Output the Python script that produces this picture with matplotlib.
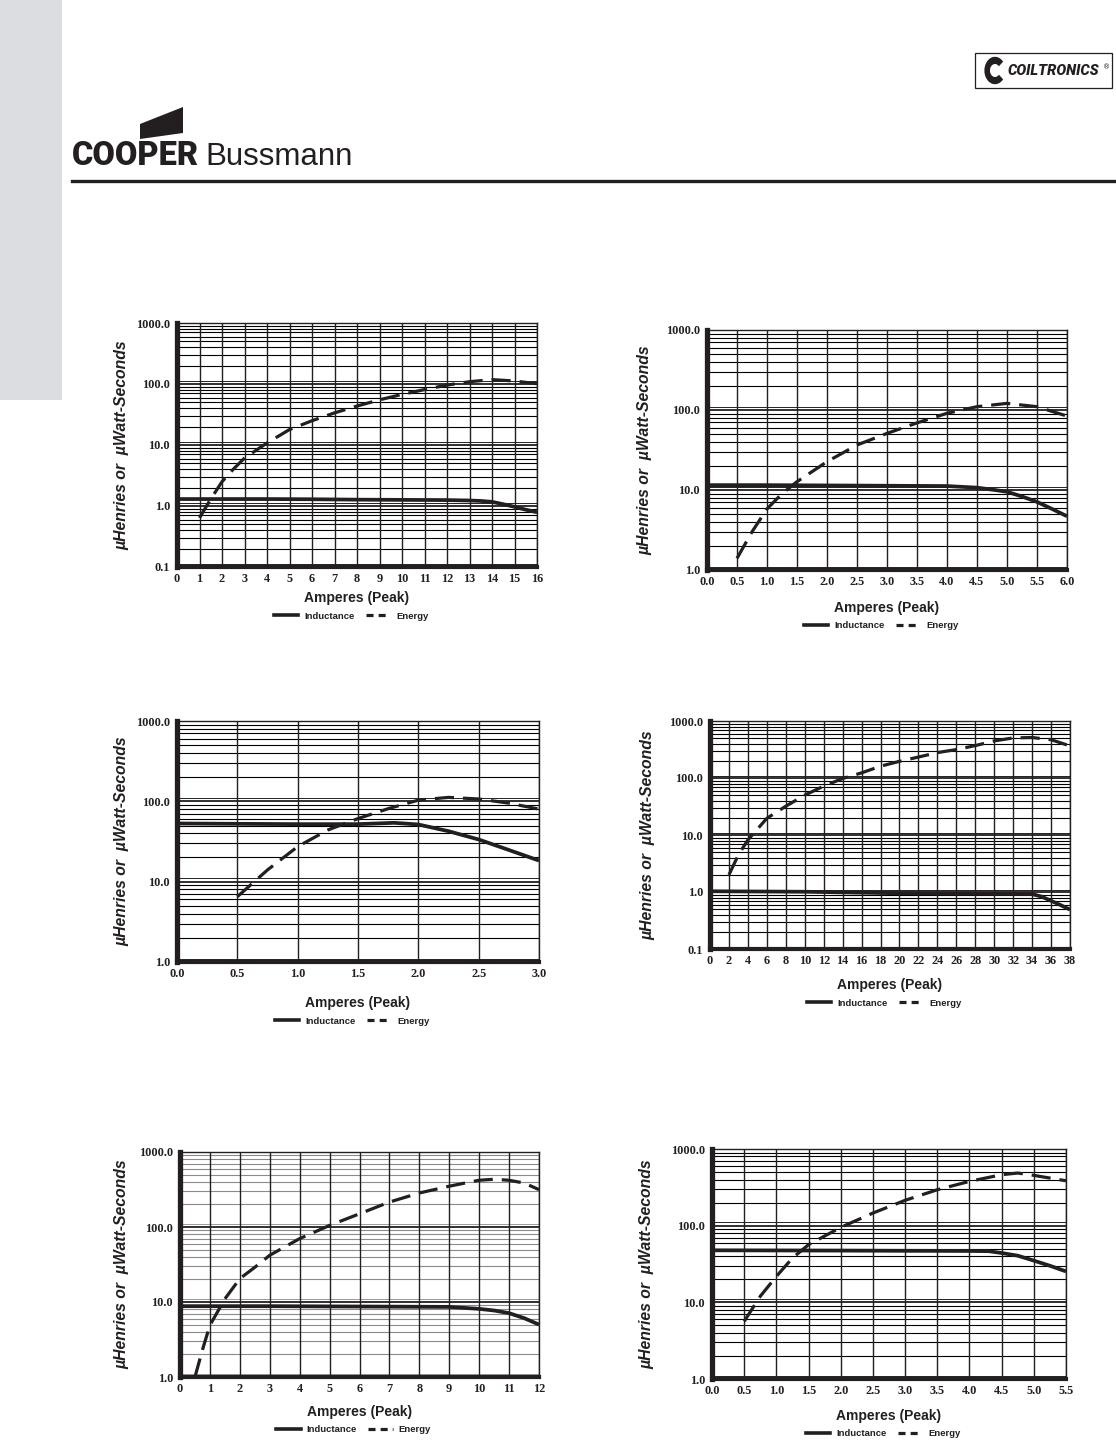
import matplotlib
matplotlib.use("Agg")
import matplotlib.pyplot as plt
from matplotlib.patches import Rectangle, Polygon, Wedge
from matplotlib.lines import Line2D
import numpy as np

W, H = 1116, 1441

# ---------------- data ----------------
# Chart 1 (top-left)
c1_x_ind = [0, 2, 4, 6, 8, 10, 12, 13, 13.5, 14, 14.5, 15, 15.5, 16]
c1_ind = [1.30, 1.30, 1.30, 1.29, 1.27, 1.26, 1.25, 1.23, 1.21, 1.17, 1.07, 0.97, 0.87, 0.79]
c1_x_en = [1, 1.5, 2, 2.5, 3, 4, 5, 6, 7, 8, 9, 10, 11, 12, 13, 14, 15, 16]
c1_en = [0.64, 1.3, 2.5, 4.0, 6.1, 10.8, 17.9, 25, 33.6, 43.5, 55, 67.5, 81, 96, 109, 118, 112, 101]

# Chart 2 (top-right)
c2_x_ind = [0, 1, 2, 3, 4, 4.5, 4.8, 5.0, 5.25, 5.5, 5.75, 6.0]
c2_ind = [11.5, 11.5, 11.4, 11.3, 11.2, 10.7, 10.0, 9.5, 8.3, 7.1, 5.8, 4.7]
c2_x_en = [0.5, 0.75, 1.0, 1.25, 1.5, 2.0, 2.5, 3.0, 3.5, 4.0, 4.5, 5.0, 5.5, 6.0]
c2_en = [1.4, 3.0, 5.8, 9.0, 12.7, 22.6, 36.5, 51, 69, 91, 110, 121, 110, 84]

# Chart 3 (middle-left)
c3_x_ind = [0, 0.5, 1.0, 1.5, 1.8, 2.0, 2.25, 2.5, 2.75, 3.0]
c3_ind = [53, 52.5, 52, 52, 54, 51.5, 42.5, 33.5, 24.8, 18.3]
c3_x_en = [0.5, 0.75, 1.0, 1.25, 1.5, 1.75, 2.0, 2.25, 2.5, 2.75, 3.0]
c3_en = [6.5, 14, 27.3, 44, 61, 81, 103.5, 112, 107, 95, 80]

# Chart 4 (middle-right)
c4_x_ind = [0, 10, 20, 30, 34, 35, 36, 37, 38]
c4_ind = [1.03, 1.01, 0.95, 0.93, 0.92, 0.83, 0.70, 0.59, 0.49]
c4_x_en = [2, 3, 4, 6, 8, 10, 12, 14, 16, 18, 20, 22, 24, 26, 28, 30, 32, 34, 36, 38]
c4_en = [2.0, 4.5, 8.2, 19.6, 32, 50, 72, 98, 123, 161, 196, 233, 279, 315, 370, 447, 505, 513, 470, 365]

# Chart 5 (bottom-left)
c5_x_ind = [0, 3, 6, 9, 10, 10.5, 11, 11.5, 12]
c5_ind = [8.8, 8.8, 8.7, 8.6, 8.1, 7.7, 7.1, 6.1, 5.0]
c5_x_en = [0.5, 0.75, 1, 1.5, 2, 2.5, 3, 4, 5, 6, 7, 8, 9, 10, 10.5, 11, 11.5, 12]
c5_en = [1.0, 2.3, 4.9, 11, 20.5, 29, 42, 70, 105, 150, 215, 284, 350, 420, 433, 420, 386, 315]

# Chart 6 (bottom-right)
c6_x_ind = [0, 1, 2, 3, 4, 4.3, 4.5, 4.75, 5.0, 5.25, 5.5]
c6_ind = [47.7, 47.5, 47.3, 47.0, 46.8, 46.5, 44, 40.6, 35, 30, 25.3]
c6_x_en = [0.5, 0.75, 1.0, 1.25, 1.5, 2.0, 2.5, 3.0, 3.5, 4.0, 4.5, 4.75, 5.0, 5.5]
c6_en = [5.65, 12, 21.8, 37.8, 56.5, 95, 146, 214, 294, 378, 462, 486, 453, 385]

x1_ticks = list(range(0, 17))
x2_ticks = [0.0, 0.5, 1.0, 1.5, 2.0, 2.5, 3.0, 3.5, 4.0, 4.5, 5.0, 5.5, 6.0]
x3_ticks = [0.0, 0.5, 1.0, 1.5, 2.0, 2.5, 3.0]
x4_ticks = list(range(0, 39, 2))
x5_ticks = list(range(0, 13))
x6_ticks = [0.0, 0.5, 1.0, 1.5, 2.0, 2.5, 3.0, 3.5, 4.0, 4.5, 5.0, 5.5]

y_ticks_4dec = [0.1, 1, 10, 100, 1000]
y_labels_4dec = ["0.1", "1.0", "10.0", "100.0", "1000.0"]
y_ticks_3dec = [1, 10, 100, 1000]
y_labels_3dec = ["1.0", "10.0", "100.0", "1000.0"]

x_label = "Amperes (Peak)"
y_label = "\u00b5Henries or  \u00b5Watt-Seconds"
legend_labels = ["Inductance", "Energy"]

# ---------------- figure ----------------
fig = plt.figure(figsize=(W / 100, H / 100), dpi=100)
fig.patch.set_facecolor("white")

def fx(x):
    return x / W

def fy(y):
    return 1 - y / H

ink = "#231f20"
serif = ["Liberation Serif", "DejaVu Serif"]
sans = ["Liberation Sans", "DejaVu Sans"]

# header decoration
fig.patches.append(Rectangle((0, fy(400)), fx(62), 400 / H, transform=fig.transFigure,
                             facecolor="#dcdde0", edgecolor="none", zorder=0))
fig.add_artist(Line2D([fx(72), fx(1116)], [fy(181), fy(181)], transform=fig.transFigure,
                      color=ink, lw=2.4))
fig.patches.append(Polygon([(fx(140), fy(124)), (fx(183), fy(107)), (fx(183), fy(133)), (fx(140), fy(139))],
                           closed=True, transform=fig.transFigure, facecolor=ink, edgecolor="none"))
fig.text(fx(72), fy(165), "COOPER", fontsize=23.5, fontweight="black",
         family=["Roboto", "DejaVu Sans"], color=ink, va="baseline", ha="left")
fig.text(fx(205), fy(165), "Bussmann", fontsize=22.5, family=sans,
         color=ink, va="baseline", ha="left")
# coiltronics logo
fig.patches.append(Rectangle((fx(975), fy(88)), fx(137), 35 / H, transform=fig.transFigure,
                             facecolor="white", edgecolor=ink, lw=0.9))
fig.patches.append(Wedge((fx(995), fy(70.5)), 0.0095, 40, 320, width=0.005, transform=fig.transFigure,
                         facecolor=ink, edgecolor="none"))
fig.text(fx(1008), fy(71), "COILTRONICS", fontsize=10.5, fontweight="black", fontstyle="italic",
         family=["Roboto", "DejaVu Sans"], color=ink, va="center", ha="left")
fig.text(fx(1103), fy(67), "\u00ae", fontsize=5, color=ink, va="center", ha="left")

charts = [
    dict(box=(177, 323, 537, 567), xlim=(0, 16), xt=x1_ticks, xfmt="{:d}", ylim=(0.1, 1000),
         yt=y_ticks_4dec, yl=y_labels_4dec, ylx=122, xly=598, lgy=616,
         xi=c1_x_ind, yi=c1_ind, xe=c1_x_en, ye=c1_en, grid="k"),
    dict(box=(707, 330, 1067, 570), xlim=(0, 6), xt=x2_ticks, xfmt="{:.1f}", ylim=(1, 1000),
         yt=y_ticks_3dec, yl=y_labels_3dec, ylx=645, xly=608, lgy=626,
         xi=c2_x_ind, yi=c2_ind, xe=c2_x_en, ye=c2_en, grid="k"),
    dict(box=(177, 721, 539, 962), xlim=(0, 3), xt=x3_ticks, xfmt="{:.1f}", ylim=(1, 1000),
         yt=y_ticks_3dec, yl=y_labels_3dec, ylx=122, xly=1003, lgy=1021,
         xi=c3_x_ind, yi=c3_ind, xe=c3_x_en, ye=c3_en, grid="k"),
    dict(box=(710, 721, 1070, 949), xlim=(0, 38), xt=x4_ticks, xfmt="{:d}", ylim=(0.1, 1000),
         yt=y_ticks_4dec, yl=y_labels_4dec, ylx=648, xly=985, lgy=1003,
         xi=c4_x_ind, yi=c4_ind, xe=c4_x_en, ye=c4_en, grid="k"),
    dict(box=(180, 1152, 539, 1377), xlim=(0, 12), xt=x5_ticks, xfmt="{:d}", ylim=(1, 1000),
         yt=y_ticks_3dec, yl=y_labels_3dec, ylx=122, xly=1412, lgy=1430,
         xi=c5_x_ind, yi=c5_ind, xe=c5_x_en, ye=c5_en, grid="#8a8a8a"),
    dict(box=(712, 1149, 1066, 1379), xlim=(0, 5.5), xt=x6_ticks, xfmt="{:.1f}", ylim=(1, 1000),
         yt=y_ticks_3dec, yl=y_labels_3dec, ylx=647, xly=1416, lgy=1434,
         xi=c6_x_ind, yi=c6_ind, xe=c6_x_en, ye=c6_en, grid="k"),
]

for c in charts:
    l, t, r, b = c["box"]
    ax = fig.add_axes([fx(l), fy(b), (r - l) / W, (b - t) / H])
    ax.set_yscale("log")
    ax.set_xlim(*c["xlim"])
    ax.set_ylim(*c["ylim"])
    # grid
    lo, hi = np.log10(c["ylim"][0]), np.log10(c["ylim"][1])
    for d in range(int(round(lo)), int(round(hi))):
        for m in range(2, 10):
            ax.axhline(m * 10.0 ** d, color=c["grid"], lw=0.8, zorder=1)
        ax.axhline(10.0 ** d * 1.1, color=c["grid"], lw=0.6, zorder=1)
        ax.axhline(10.0 ** d, color=ink, lw=1.3, zorder=1)
    for xv in c["xt"]:
        ax.axvline(xv, color=ink, lw=1.0, zorder=1)
    # lines
    ax.plot(c["xi"], c["yi"], color=ink, lw=2.7, solid_capstyle="butt", zorder=3)
    ax.plot(c["xe"], c["ye"], color=ink, lw=2.3, dashes=(6, 2.8), dash_capstyle="butt", zorder=3)
    # spines
    for s in ["top", "right"]:
        ax.spines[s].set_linewidth(1.0)
        ax.spines[s].set_color(ink)
    ax.spines["left"].set_linewidth(3.8)
    ax.spines["bottom"].set_linewidth(3.0)
    ax.spines["left"].set_color(ink)
    ax.spines["bottom"].set_color(ink)
    ax.set_xticks(c["xt"])
    ax.set_xticklabels([c["xfmt"].format(v) for v in c["xt"]], family=serif, fontweight="bold", fontsize=8.8)
    ax.set_yticks(c["yt"])
    ax.set_yticklabels(c["yl"], family=serif, fontweight="bold", fontsize=8.8)
    ax.minorticks_off()
    ax.set_yticks([], minor=True)
    ax.tick_params(axis="both", length=0, colors=ink)
    ax.tick_params(axis="x", pad=4)
    ax.tick_params(axis="y", pad=5)
    # labels
    fig.text(fx(c["ylx"]), fy((t + b) / 2), y_label, rotation=90, ha="center", va="center",
             fontsize=11.3, fontweight="bold", fontstyle="italic", family=sans, color=ink)
    fig.text(fx((l + r) / 2), fy(c["xly"]), x_label, ha="center", va="center",
             fontsize=10, fontweight="bold", family=sans, color=ink)
    handles = [Line2D([], [], color=ink, lw=2.6),
               Line2D([], [], color=ink, lw=2.3, dashes=(2.2, 1.6))]
    fig.legend(handles, legend_labels, loc="center", bbox_to_anchor=(fx((l + r) / 2 - 6), fy(c["lgy"])),
               ncol=2, frameon=False, handlelength=2.6, handletextpad=0.6, columnspacing=1.2,
               prop=dict(family=sans, weight="bold", size=6.8), labelcolor=ink)

fig.savefig("out.png", dpi=100, facecolor="white")
